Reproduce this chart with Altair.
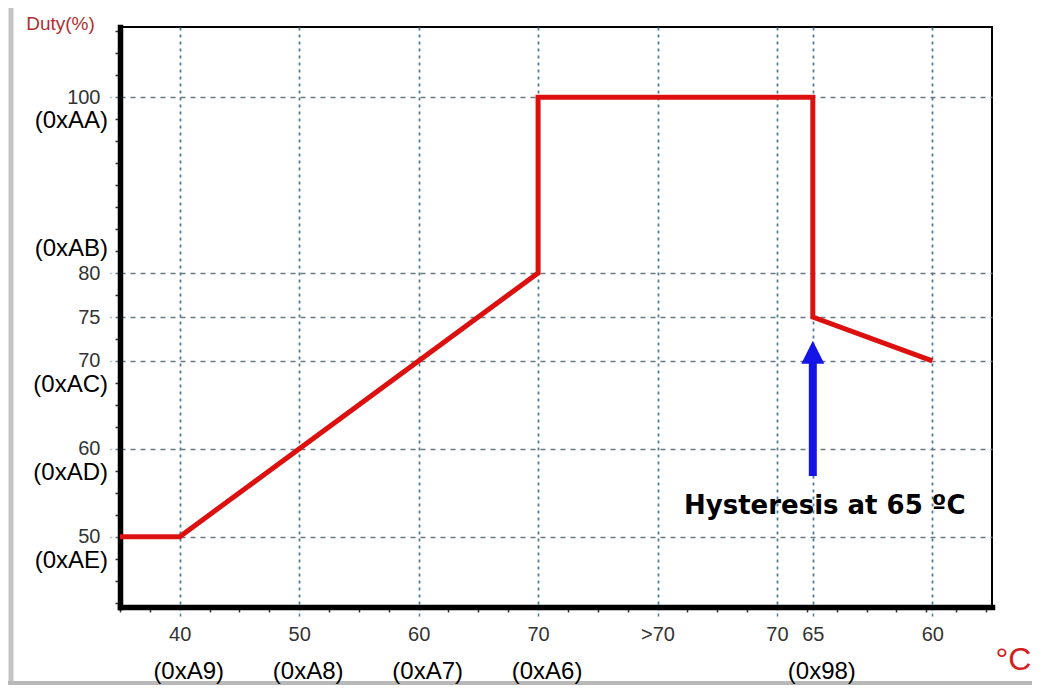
import json
import altair as alt
import numpy as np
import pandas as pd

# ---- data ----
# x is the position along the temperature axis (one slot per 10 degrees)
x_pos = [35, 40, 70, 70, 93, 93, 103]
duty = [50, 50, 80, 100, 100, 75, 70]

x_tick_pos = [40, 50, 60, 70, 80, 90, 93, 103]
x_tick_labels = ["40", "50", "60", "70", ">70", "70", "65", "60"]

x_hex_pos = [40, 50, 60, 70, 93]
x_hex_labels = ["(0xA9)", "(0xA8)", "(0xA7)", "(0xA6)", "(0x98)"]

y_ticks = [50, 60, 70, 75, 80, 100]
y_hex_below_vals = [100, 70, 60, 50]
y_hex_below_labels = ["(0xAA)", "(0xAC)", "(0xAD)", "(0xAE)"]
y_hex_above_vals = [80]
y_hex_above_labels = ["(0xAB)"]

arrow_pos = [93]
arrow_from = [56.9]
arrow_to = [69.8]
arrow_head = [71.0]

note_pos = [94]
note_duty = [53.5]
note_text = ["Hysteresis at 65 \u00baC"]

W, H = 872, 580
FONT = "Liberation Sans"
GRIDX = "#4f7f90"
GRIDY = "#687a84"

x_domain = [35, 108]
y_domain = [42, 108]

x_vals = sorted(set([float(v) for v in np.arange(35, 108, 2.5)] + [float(v) for v in x_tick_pos]))
y_vals = sorted(set([float(v) for v in np.arange(42.5, 108, 2.5)] + [float(v) for v in y_ticks]))

xm = json.dumps(x_tick_pos)
xl = json.dumps(x_tick_labels)
ym = json.dumps(y_ticks)
is_x_major = f"indexof({xm}, datum.value) >= 0"
is_y_major = f"indexof({ym}, datum.value) >= 0"

x_axis = alt.Axis(
    values=x_vals,
    tickCount=500,
    labelExpr=f"{is_x_major} ? {xl}[indexof({xm}, datum.value)] : ''",
    grid=True,
    gridColor=GRIDX,
    gridDash=[3, 4],
    gridWidth=1.8,
    gridOpacity={"condition": {"test": is_x_major, "value": 1}, "value": 0},
    tickColor={"condition": {"test": is_x_major, "value": GRIDX}, "value": "#333333"},
    tickDash={"condition": {"test": is_x_major, "value": [3, 3]}, "value": [1, 0]},
    tickSize={"condition": {"test": is_x_major, "value": 9}, "value": 5},
    tickWidth=1.5,
    domainColor="black",
    domainWidth=5.5,
    domainCap="square",
    labelFont=FONT,
    labelFontSize=20,
    labelColor="#333333",
    labelPadding=8,
    labelFlush=False,
    labelOverlap=False,
    title="\u00b0C",
    titleX=893,
    titleY=52,
    titleAlign="center",
    titleBaseline="middle",
    titleColor="#d42020",
    titleFont=FONT,
    titleFontSize=32,
    titleFontWeight="normal",
)

y_axis = alt.Axis(
    values=y_vals,
    tickCount=500,
    labelExpr=f"{is_y_major} ? format(datum.value, 'd') : ''",
    grid=True,
    gridColor=GRIDY,
    gridDash=[5, 5],
    gridWidth=1.5,
    gridOpacity={"condition": {"test": is_y_major, "value": 1}, "value": 0},
    tickColor={"condition": {"test": is_y_major, "value": GRIDY}, "value": "#333333"},
    tickDash={"condition": {"test": is_y_major, "value": [5, 4]}, "value": [1, 0]},
    tickSize={"condition": {"test": is_y_major, "value": 10}, "value": 5},
    tickWidth=1.5,
    domainColor="black",
    domainWidth=5.5,
    domainCap="square",
    labelFont=FONT,
    labelFontSize=20,
    labelColor="#333333",
    labelPadding=10,
    labelFlush=False,
    labelOverlap=False,
    title="Duty(%)",
    titleAngle=0,
    titleX=-60,
    titleY=-4,
    titleAlign="center",
    titleBaseline="middle",
    titleColor="#b03030",
    titleFont=FONT,
    titleFontSize=19,
    titleFontWeight="normal",
)

xs = alt.Scale(domain=x_domain, nice=False, zero=False)
ys = alt.Scale(domain=y_domain, nice=False, zero=False)

line_df = pd.DataFrame({"pos": x_pos, "duty": duty, "order": list(range(len(x_pos)))})

line = alt.Chart(line_df).mark_line(
    color="#dd1010", strokeWidth=5, strokeJoin="miter", strokeCap="butt"
).encode(
    x=alt.X("pos:Q", scale=xs, axis=x_axis),
    y=alt.Y("duty:Q", scale=ys, axis=y_axis),
    order="order:Q",
)

hex_x = alt.Chart(pd.DataFrame({"pos": x_hex_pos, "lab": x_hex_labels})).mark_text(
    font=FONT, fontSize=24, color="black", baseline="middle", dx=9
).encode(x=alt.X("pos:Q", scale=xs), y=alt.value(H + 65), text="lab:N")

hex_y_below = alt.Chart(pd.DataFrame({"duty": y_hex_below_vals, "lab": y_hex_below_labels})).mark_text(
    font=FONT, fontSize=24, color="black", baseline="middle", align="right", dy=24
).encode(x=alt.value(-12), y=alt.Y("duty:Q", scale=ys), text="lab:N")

hex_y_above = alt.Chart(pd.DataFrame({"duty": y_hex_above_vals, "lab": y_hex_above_labels})).mark_text(
    font=FONT, fontSize=24, color="black", baseline="middle", align="right", dy=-24
).encode(x=alt.value(-12), y=alt.Y("duty:Q", scale=ys), text="lab:N")

arrow_df = pd.DataFrame({"pos": arrow_pos, "y1": arrow_from, "y2": arrow_to, "yh": arrow_head})
shaft = alt.Chart(arrow_df).mark_rule(color="#1414e6", strokeWidth=8).encode(
    x=alt.X("pos:Q", scale=xs), y=alt.Y("y1:Q", scale=ys), y2="y2:Q"
)
head = alt.Chart(arrow_df).mark_point(
    shape="M0,-1L1,1L-1,1Z", filled=True, size=529, color="#1414e6", opacity=1
).encode(x=alt.X("pos:Q", scale=xs), y=alt.Y("yh:Q", scale=ys))

note = alt.Chart(pd.DataFrame({"pos": note_pos, "duty": note_duty, "t": note_text})).mark_text(
    font="DejaVu Sans", fontWeight="bold", fontSize=26, color="black", baseline="middle", align="center"
).encode(x=alt.X("pos:Q", scale=xs), y=alt.Y("duty:Q", scale=ys), text="t:N")

frame_left = alt.Chart(pd.DataFrame({"a": [0]})).mark_rule(color="#c4c4c4", strokeWidth=5).encode(
    x=alt.value(-109), y=alt.value(-19), y2=alt.value(658)
)
frame_bottom = alt.Chart(pd.DataFrame({"a": [0]})).mark_rule(color="#b8b8b8", strokeWidth=4).encode(
    x=alt.value(-112), x2=alt.value(W + 60), y=alt.value(656)
)

chart = alt.layer(
    frame_left, frame_bottom, line, shaft, head, note, hex_x, hex_y_below, hex_y_above
).properties(
    width=W,
    height=H,
    autosize=alt.AutoSizeParams(type="none"),
    padding={"left": 112, "top": 19, "right": 40, "bottom": 78},
    background="white",
).configure_view(stroke="black", strokeWidth=2, fill="white")

chart.save("out.html", embed_options={"renderer": "svg", "actions": False})
